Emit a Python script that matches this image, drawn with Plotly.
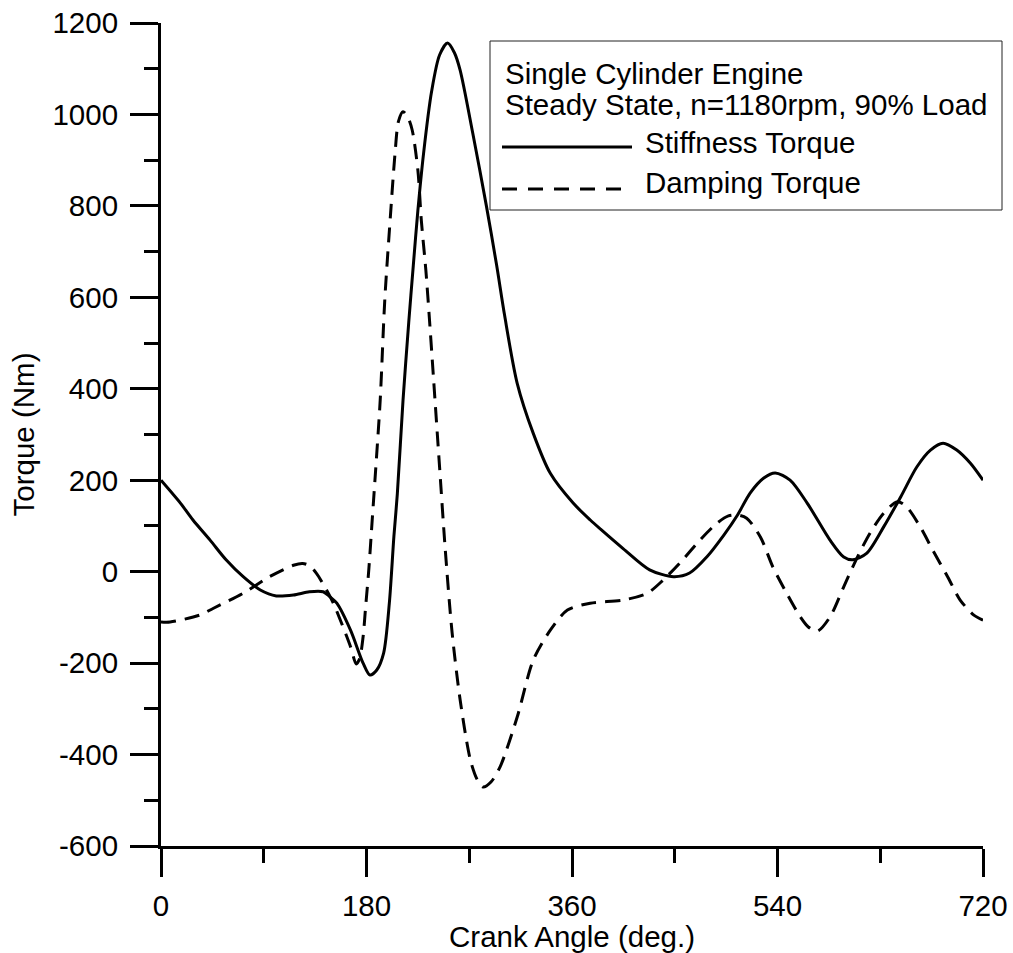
import plotly.graph_objects as go

# ---- data ----
stiff_deg = [0, 17, 28, 43, 57, 72, 87, 101, 116, 130, 142, 148, 154, 166, 177, 183, 189, 195, 200, 204,
             207, 212, 217, 221, 225, 230, 237, 244, 251, 257, 262, 273, 285, 294, 301, 312, 326, 341, 361,
             376, 385, 405, 428, 449, 463, 478, 493, 505, 516, 528, 538, 551, 566, 586, 598, 606, 618,
             633, 648, 662, 674, 685, 697, 709, 720]
stiff_val = [200, 150, 113, 69, 26, -11, -40, -53, -51, -44, -44, -55, -69, -128, -200, -226, -215, -178, -69, 77,
             170, 375, 545, 670, 790, 915, 1050, 1130, 1156, 1135, 1097, 960, 800, 670, 560, 412, 303, 215, 150,
             113, 93, 50, 4, -11, -3, 32, 80, 124, 172, 205, 216, 200, 150, 69, 32, 26, 40,
             98, 164, 229, 266, 281, 266, 237, 200]

damp_deg = [0, 8, 34, 46, 72, 95, 116, 124, 130, 136, 145, 151, 166, 171, 174, 177, 179, 182, 185, 188,
            192, 196, 201, 205, 208, 212, 216, 220, 225, 228, 232, 235, 239, 244, 249, 255, 262, 271, 277,
            282, 289, 297, 312, 326, 341, 356, 376, 405, 426, 440, 457, 472, 487, 497, 505, 513, 525, 536,
            548, 560, 567, 575, 586, 598, 610, 621, 633, 645, 653, 665, 676, 689, 700, 712, 720]
damp_val = [-110, -110, -95, -80, -47, -11, 14, 18, 13, -3, -40, -69, -164, -202, -190, -143, -84, 4, 113, 222,
            375, 594, 780, 915, 985, 1006, 995, 966, 878, 769, 659, 557, 412, 229, 48, -134, -280, -412, -455,
            -471, -460, -427, -318, -194, -128, -84, -69, -62, -47, -18, 26, 69, 106, 122, 124, 117, 76, 10,
            -47, -99, -121, -130, -99, -33, 32, 84, 128, 153, 142, 98, 47, -11, -62, -95, -106]

x_ticks = [0, 180, 360, 540, 720]
y_ticks = [-600, -400, -200, 0, 200, 400, 600, 800, 1000, 1200]
legend_title_lines = ["Single Cylinder Engine", "Steady State, n=1180rpm, 90% Load"]
series_names = ["Stiffness Torque", "Damping Torque"]
x_title = "Crank Angle (deg.)"
y_title = "Torque (Nm)"

FONT = "Liberation Sans, Arial, Helvetica, sans-serif"
FS = 29.5
W, H = 1013, 953
L, R, T, B = 161, 983, 23, 846     # plot area in page pixels


def px(xp):
    return (xp - L) / (R - L)


def py(yp):
    return (B - yp) / (B - T)


fig = go.Figure()
fig.add_trace(go.Scatter(x=stiff_deg, y=stiff_val, mode="lines", name=series_names[0],
                         line=dict(color="black", width=3, shape="spline", smoothing=0.8),
                         showlegend=False))
fig.add_trace(go.Scatter(x=damp_deg, y=damp_val, mode="lines", name=series_names[1],
                         line=dict(color="black", width=3, dash="15px,9px", shape="spline", smoothing=0.8),
                         showlegend=False))

axis_common = dict(showgrid=False, zeroline=False, showline=True, linecolor="black", linewidth=3,
                   ticks="outside", ticklen=28, tickwidth=3, tickcolor="black",
                   ticklabeloverflow="allow",
                   tickfont=dict(family=FONT, size=FS, color="black"))

fig.update_xaxes(range=[0, 720], tickvals=x_ticks, ticktext=[str(v) for v in x_ticks],
                 minor=dict(dtick=90, tick0=0, ticks="outside", ticklen=14, tickwidth=3, tickcolor="black"),
                 title=dict(text=x_title, font=dict(family=FONT, size=FS, color="black"), standoff=6),
                 ticklabelstandoff=4, **axis_common)
fig.update_yaxes(range=[-600, 1200], tickvals=y_ticks, ticktext=[str(v) for v in y_ticks],
                 minor=dict(dtick=100, tick0=0, ticks="outside", ticklen=14, tickwidth=3, tickcolor="black"),
                 title=dict(text=y_title, font=dict(family=FONT, size=FS, color="black"), standoff=10),
                 ticklabelstandoff=6, **axis_common)

# legend box drawn manually to match the reference layout
shapes = [
    dict(type="rect", xref="paper", yref="paper", x0=px(490), x1=px(1002), y0=py(210), y1=py(41),
         line=dict(color="#222", width=1), fillcolor="white", layer="above"),
    dict(type="line", xref="paper", yref="paper", x0=px(502), x1=px(632), y0=py(147), y1=py(147),
         line=dict(color="black", width=3), layer="above"),
    dict(type="line", xref="paper", yref="paper", x0=px(502), x1=px(632), y0=py(189), y1=py(189),
         line=dict(color="black", width=3, dash="15px,11px"), layer="above"),
]
annotations = []
for text, xp, yp in [(legend_title_lines[0], 503, 74), (legend_title_lines[1], 503, 104),
                     (series_names[0], 643, 142), (series_names[1], 643, 183)]:
    annotations.append(dict(text=text, xref="paper", yref="paper", x=px(xp), y=py(yp),
                            xanchor="left", yanchor="middle", showarrow=False,
                            font=dict(family=FONT, size=FS, color="black")))

fig.update_layout(width=W, height=H, paper_bgcolor="white", plot_bgcolor="white",
                  margin=dict(l=L, r=W - R, t=T, b=H - B, autoexpand=False),
                  shapes=shapes, annotations=annotations, showlegend=False)

# remove the default 8px page margin so the figure sits at the window's top-left corner
fig.write_html("out.html", config={"displayModeBar": False},
               post_script="document.body.style.margin='0';document.body.style.overflow='hidden';")
